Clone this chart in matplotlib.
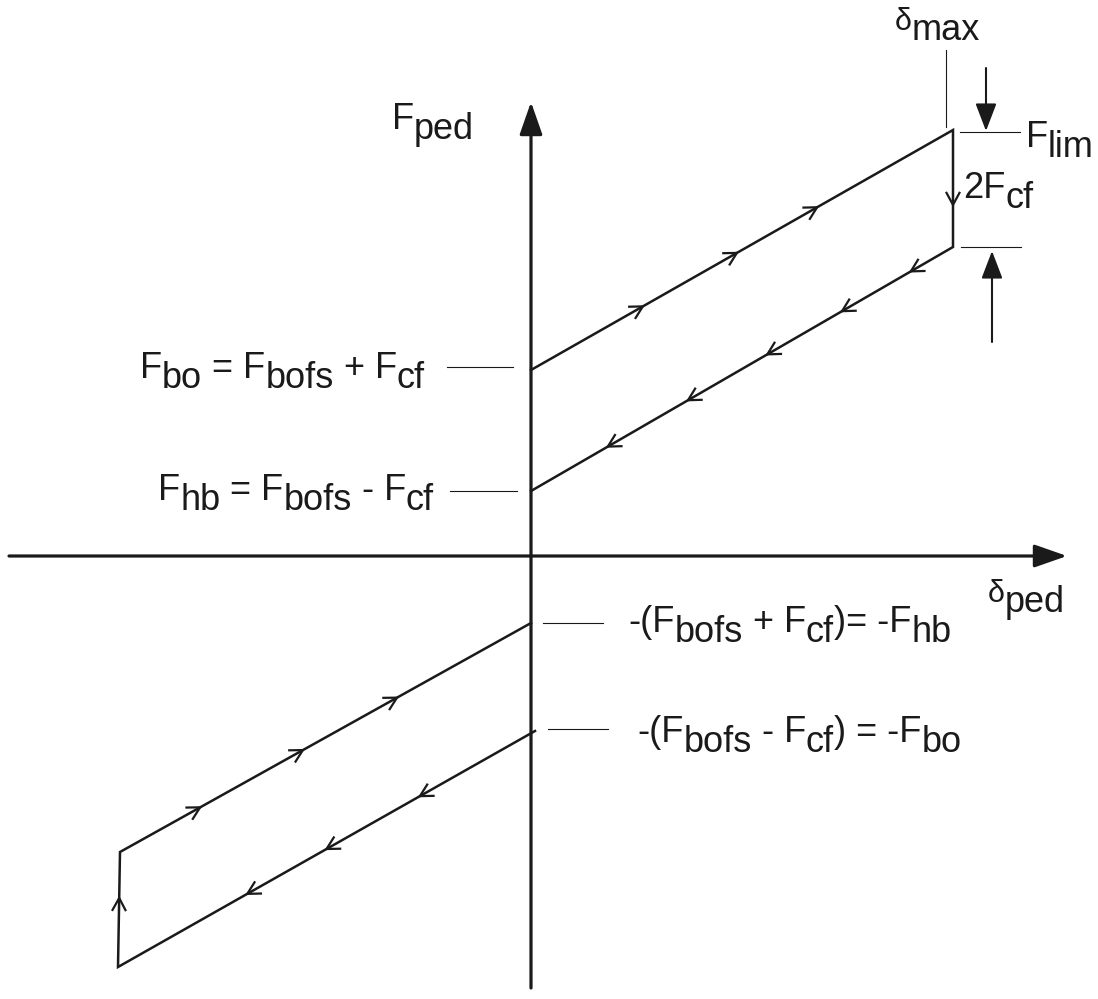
import numpy as np
import matplotlib
matplotlib.use("Agg")
import matplotlib.pyplot as plt
from matplotlib.patches import FancyArrowPatch

plt.rcParams['font.family'] = ['Liberation Sans', 'DejaVu Sans']

# ---- diagram data: pedal travel (delta_ped) vs pedal force (F_ped) ----
# Positive-travel hysteresis loop: A -> B -> C -> D
loop_up_delta = [0, 422, 422, 0]
loop_up_force = [186, 426, 309, 65]
# Negative-travel hysteresis loop: H -> G -> F -> E
loop_dn_delta = [4, -413, -411, 0]
loop_dn_force = [-175, -411, -296, -67]

# direction chevrons: (segment start index, fractions along segment)
up_marks = [(0, [0.265, 0.488, 0.678]), (1, [0.64]), (2, [0.10, 0.263, 0.44, 0.628, 0.818])]
dn_marks = [(0, [0.276, 0.50, 0.69]), (1, [0.60]), (2, [0.195, 0.445, 0.674])]

# axis extents
x_axis = (-522, 536)
y_axis = (-432, 454)

FS = 26
FS_GREEK = 22
SUB = 10  # subscript drop in px

fig = plt.figure(figsize=(10.98, 9.99), dpi=100)
ax = fig.add_axes([0, 0, 1, 1])
ax.set_xlim(-531, 567)
ax.set_ylim(-443, 556)
ax.axis('off')

LW_LOOP = 1.8
LW_AX = 2.3
LW_TICK = 0.8
K = '#1a1a1a'


def filled_arrow(x0, y0, x1, y1, lw, hl, hw):
    ax.add_patch(FancyArrowPatch((x0, y0), (x1, y1),
                                 arrowstyle=f'-|>,head_length={hl},head_width={hw}',
                                 mutation_scale=1, lw=lw, color=K,
                                 shrinkA=0, shrinkB=0))


def chevron(p, q, frac, L=13, W=7):
    p = np.asarray(p, float)
    q = np.asarray(q, float)
    u = (q - p) / np.linalg.norm(q - p)
    n = np.array([-u[1], u[0]])
    t = p + frac * (q - p)
    a = t - L * u + W * n
    b = t - L * u - W * n
    ax.plot([a[0], t[0], b[0]], [a[1], t[1], b[1]], color=K, lw=1.6,
            solid_joinstyle='miter', solid_capstyle='butt')


def draw_loop(xs, ys, marks):
    ax.plot(xs, ys, color=K, lw=LW_LOOP, solid_joinstyle='miter')
    for seg, fracs in marks:
        p = (xs[seg], ys[seg])
        q = (xs[seg + 1], ys[seg + 1])
        for f in fracs:
            chevron(p, q, f)


# coordinate axes
filled_arrow(x_axis[0], 0, x_axis[1], 0, LW_AX, 20, 7)
filled_arrow(0, y_axis[0], 0, y_axis[1], LW_AX, 20, 7)

draw_loop(loop_up_delta, loop_up_force, up_marks)
draw_loop(loop_dn_delta, loop_dn_force, dn_marks)

renderer = fig.canvas.get_renderer()


def rich(x, y, parts):
    """Write text runs left to right; parts are (string, is_subscript, size)."""
    for s, sub, size in parts:
        t = ax.text(x, y - (SUB if sub else 0), s, fontsize=size, color=K,
                    ha='left', va='baseline')
        bb = t.get_window_extent(renderer)
        x += bb.width


def hline(x0, x1, y):
    ax.plot([x0, x1], [y, y], color=K, lw=LW_TICK)


# leader lines
hline(-84, -18, 189)      # F_bo
hline(-81, -14, 65)       # F_hb
hline(12, 72, -67)        # -F_hb
hline(17, 77, -173)       # -F_bo
hline(429, 489, 424)      # F_lim
hline(430, 490, 309)      # lower limit
ax.plot([415, 415], [506, 429], color=K, lw=LW_TICK)  # delta_max

# F_lim / 2F_cf dimension arrows
filled_arrow(455, 488, 455, 425, 1.5, 17, 6.5)
filled_arrow(461, 214, 461, 305, 1.5, 17, 6.5)

# labels
N, S = False, True
rich(-391, 178, [('F', N, FS), ('bo', S, FS), (' = F', N, FS), ('bofs', S, FS),
                 (' + F', N, FS), ('cf', S, FS)])
rich(-373, 56, [('F', N, FS), ('hb', S, FS), (' = F', N, FS), ('bofs', S, FS),
                (' - F', N, FS), ('cf', S, FS)])
rich(97, -76, [('-(F', N, FS), ('bofs', S, FS), (' + F', N, FS), ('cf', S, FS),
               (')= -F', N, FS), ('hb', S, FS)])
rich(106, -186, [('-(F', N, FS), ('bofs', S, FS), (' - F', N, FS), ('cf', S, FS),
                 (') = -F', N, FS), ('bo', S, FS)])
rich(-139, 427, [('F', N, FS), ('ped', S, FS)])
rich(457, -46, [('δ', N, FS_GREEK), ('ped', S, FS)])
rich(364, 526, [('δ', N, FS_GREEK), ('max', S, FS)])
rich(495, 409, [('F', N, FS), ('lim', S, FS)])
rich(432, 358, [('2F', N, FS), ('cf', S, FS)])

fig.savefig('out.png', dpi=100, facecolor='white')
